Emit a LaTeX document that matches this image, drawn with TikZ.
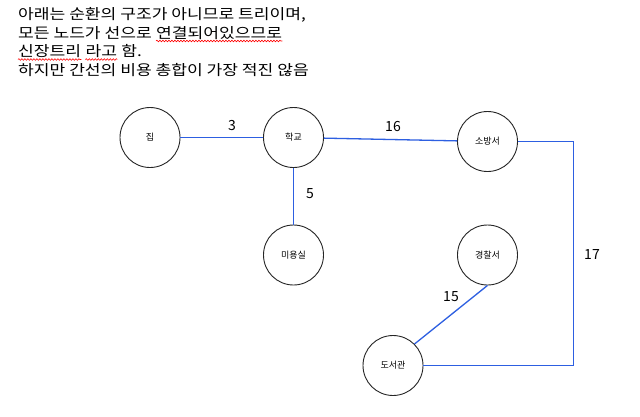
\documentclass[tikz,border=0pt]{standalone}
\usepackage{fontspec}
\setmainfont{Noto Sans CJK KR}
\newfontfamily\notefont[FakeStretch=1.18]{Noto Sans CJK KR}
\usetikzlibrary{decorations.pathmorphing}
\definecolor{edgeblue}{RGB}{45,95,225}
\begin{document}
\begin{tikzpicture}[x=1pt,y=-1pt,
  place/.style={circle,draw=black!85,line width=0.9pt,minimum size=60pt,inner sep=0pt,font=\fontsize{9}{11}\selectfont},
  link/.style={draw=edgeblue,line width=1.3pt},
  weight/.style={font=\fontsize{14}{16}\selectfont,inner sep=0pt},
  note/.style={anchor=base west,inner sep=0pt,font=\notefont\fontsize{14.5}{17}\selectfont},
  spell/.style={draw=red,line width=0.6pt,decorate,decoration={snake,amplitude=0.8pt,segment length=3pt}}]
\useasboundingbox (0,0) rectangle (640,416);
\fill[white] (0,0) rectangle (640,416);
% note text
\node[note] (t1) at (18,19.5) {아래는 순환의 구조가 아니므로 트리이며,};
\node[note] (t2a) at (18,38) {모든 노드가 선으로};
\node[note] (t2b) at ([xshift=4pt]t2a.base east) {연결되어있으므로};
\node[note] (t3a) at (18,56.5) {신장트리};
\node[note] (t3b) at ([xshift=4pt]t3a.base east) {라고};
\node[note] (t3c) at ([xshift=4pt]t3b.base east) {함.};
\node[note] (t4) at (18,75) {하지만 간선의 비용 총합이 가장 적진 않음};
\draw[spell] ([yshift=-3pt]t2b.base west) -- ([yshift=-3pt]t2b.base east);
\draw[spell] ([yshift=-3pt]t3a.base west) -- ([yshift=-3pt]t3a.base east);
\draw[spell] ([yshift=-3pt]t3b.base west) -- ([yshift=-3pt]t3b.base east);
% places
\node[place] (jip) at (150,137.5) {집};
\node[place] (hak) at (293.5,137.5) {학교};
\node[place] (sb) at (487.5,141.5) {소방서};
\node[place] (miy) at (293.5,255) {미용실};
\node[place] (gc) at (487.5,255) {경찰서};
\node[place] (dsg) at (393,365.5) {도서관};
\coordinate (c1) at (573.5,141.5);
\coordinate (c2) at (573.5,365.5);
% links
\draw[link] (jip) -- (hak);
\draw[link] (hak) -- (sb);
\draw[link] (hak) -- (miy);
\draw[link] (sb) -- (c1) -- (c2) -- (dsg);
\draw[link] (gc.south) -- (dsg.45);
% weights
\node[weight] (w3) at (232,126) {3};
\node[weight] (w16) at (393,127) {16};
\node[weight] (w5) at (310,194) {5};
\node[weight] (w17) at (592,255) {17};
\node[weight] (w15) at (451,297) {15};
\end{tikzpicture}
\end{document}
